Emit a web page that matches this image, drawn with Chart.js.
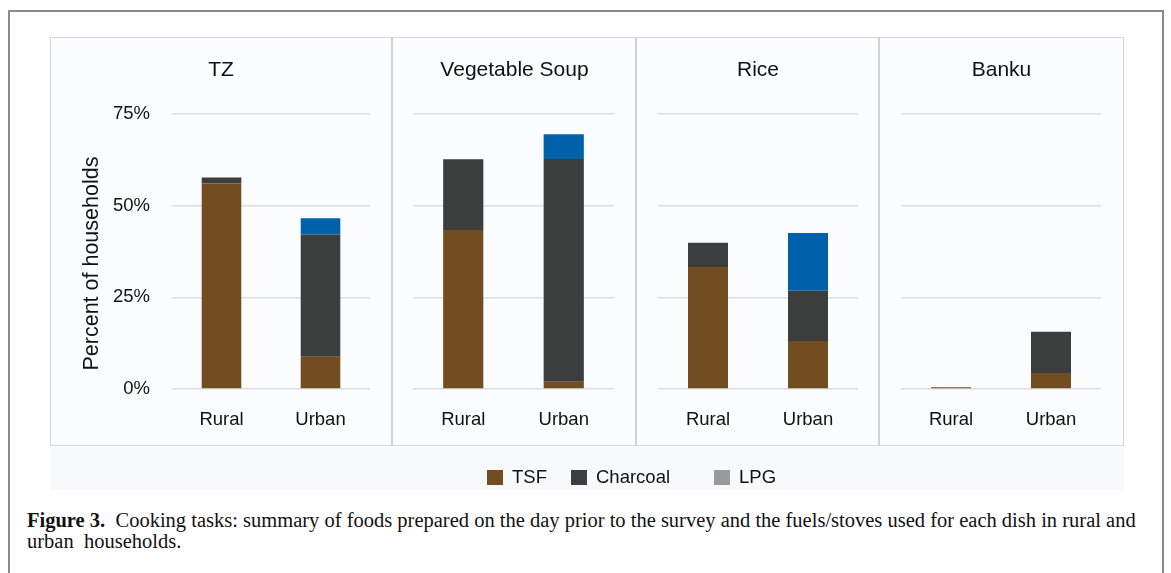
<!DOCTYPE html>
<html>
<head>
<meta charset="utf-8">
<script src="https://cdn.jsdelivr.net/npm/chart.js@4/dist/chart.umd.min.js"></script>
<style>
  html, body { margin: 0; padding: 0; background: #fff; }
  body { width: 1171px; height: 573px; position: relative; overflow: hidden;
         font-family: "Liberation Sans", Arial, sans-serif; }
  #frame { position: absolute; left: 8px; top: 10px; width: 1156px; height: 580px;
           border: 2px solid #8a8a8a; box-sizing: border-box; }
  #plotbox { position: absolute; left: 50px; top: 37px; width: 1074px; height: 409px;
             background: #fbfcfe; border: 1px solid #d6d6d6; box-sizing: border-box; }
  .panel { position: absolute; top: 37px; height: 409px; }
  .divider { position: absolute; top: 37px; height: 409px; width: 2px; background: #d2d2d2; }
  #legendband { position: absolute; left: 50px; top: 447px; width: 1074px; height: 43px; background: #f8f9fb; }
  .lg { position: absolute; top: 467px; font-size: 18.5px; color: #111; line-height: 20px; }
  .lg i { position: absolute; left: -25px; top: 3px; width: 16px; height: 15px; }
  #caption { position: absolute; left: 27px; top: 510px; width: 1130px;
             font-family: "Liberation Serif", "DejaVu Serif", serif; font-size: 20.5px; line-height: 21px; color: #111;
             white-space: nowrap; }
</style>
</head>
<body>
<div id="frame"></div>
<div id="plotbox"></div>
<div id="legendband"></div>

<div class="panel" style="left:50px;width:342px"><canvas id="p0"></canvas></div>
<div class="divider" style="left:391px"></div>
<div class="panel" style="left:393px;width:243px"><canvas id="p1"></canvas></div>
<div class="divider" style="left:635px"></div>
<div class="panel" style="left:637px;width:242px"><canvas id="p2"></canvas></div>
<div class="divider" style="left:878px"></div>
<div class="panel" style="left:880px;width:243px"><canvas id="p3"></canvas></div>

<div class="lg" style="left:512px"><i style="background:#724d1f"></i>TSF</div>
<div class="lg" style="left:596px"><i style="background:#3c3d3d"></i>Charcoal</div>
<div class="lg" style="left:739px"><i style="background:#9a9a9a"></i>LPG</div>

<div id="caption"><b>Figure 3.</b>&nbsp; Cooking tasks: summary of foods prepared on the day prior to the survey and the fuels/stoves used for each dish in rural and<br>urban&nbsp; households.</div>

<script>
/* ---------------- DATA ---------------- */
const dishes     = ["TZ", "Vegetable Soup", "Rice", "Banku"];
const settings   = ["Rural", "Urban"];
const tsfVals    = [[56.1, 8.8], [43.4, 2.0], [33.3, 13.1], [0.5, 4.4]];
const charVals   = [[1.6, 33.4], [19.3, 60.8], [6.6, 13.7], [0, 11.2]];
const lpgVals    = [[0, 4.4],    [0, 6.7],    [0, 15.8],   [0, 0]];
const yTicks     = [0, 25, 50, 75];

/* --------------- STYLE ---------------- */
const COL_TSF  = "#724d1f";
const COL_CHAR = "#3c3d3d";
const COL_LPG  = "#0061ab";
const GRID     = "#d9dee4";
// left / right gap between panel edge and plot area
const sideGap  = [[122, 22], [20, 22], [21, 21], [21, 22]];

function makePanel(i) {
  const first = i === 0;
  new Chart(document.getElementById("p" + i), {
    type: "bar",
    data: {
      labels: settings,
      datasets: [
        { label: "TSF",      data: tsfVals[i],  backgroundColor: COL_TSF },
        { label: "Charcoal", data: charVals[i], backgroundColor: COL_CHAR },
        { label: "LPG",      data: lpgVals[i],  backgroundColor: COL_LPG }
      ]
    },
    options: {
      responsive: true,
      maintainAspectRatio: false,
      animation: false,
      datasets: { bar: { barPercentage: 0.4, categoryPercentage: 1 } },
      layout: { padding: 0 },
      plugins: {
        legend: { display: false },
        tooltip: { enabled: false },
        title: {
          display: true,
          text: dishes[i],
          color: "#111",
          font: { family: "Liberation Sans", size: 21, weight: "normal" },
          padding: { top: 21, bottom: 31 }
        }
      },
      scales: {
        x: {
          stacked: true,
          grid: { display: false, drawTicks: false },
          border: { display: false },
          ticks: { color: "#111", padding: 20, font: { family: "Liberation Sans", size: 18.5 } },
          afterFit: s => { s.height = 57; }
        },
        y: {
          stacked: true,
          min: 0, max: 75,
          afterBuildTicks: s => { s.ticks = yTicks.map(v => ({ value: v })); },
          grid: { color: GRID, lineWidth: 1.5, drawTicks: false },
          border: { display: false },
          ticks: {
            display: first,
            color: "#111",
            padding: 22,
            font: { family: "Liberation Sans", size: 18.5 },
            callback: v => v + "%"
          },
          title: {
            display: first,
            // trailing spaces nudge the rotated title down a little, as in the original
            text: "Percent of households\u00a0\u00a0\u00a0\u00a0",
            color: "#111",
            font: { family: "Liberation Sans", size: 21.5 },
            padding: { top: 29, bottom: 0 }
          },
          afterFit: s => { s.width = sideGap[i][0]; }
        },
        // empty right-hand spacer so the panel title stays centred on the whole panel
        pad: {
          type: "linear",
          position: "right",
          grid: { display: false, drawTicks: false },
          border: { display: false },
          ticks: { display: false },
          afterFit: s => { s.width = sideGap[i][1]; }
        }
      }
    }
  });
}

dishes.forEach((d, i) => makePanel(i));
</script>
</body>
</html>
